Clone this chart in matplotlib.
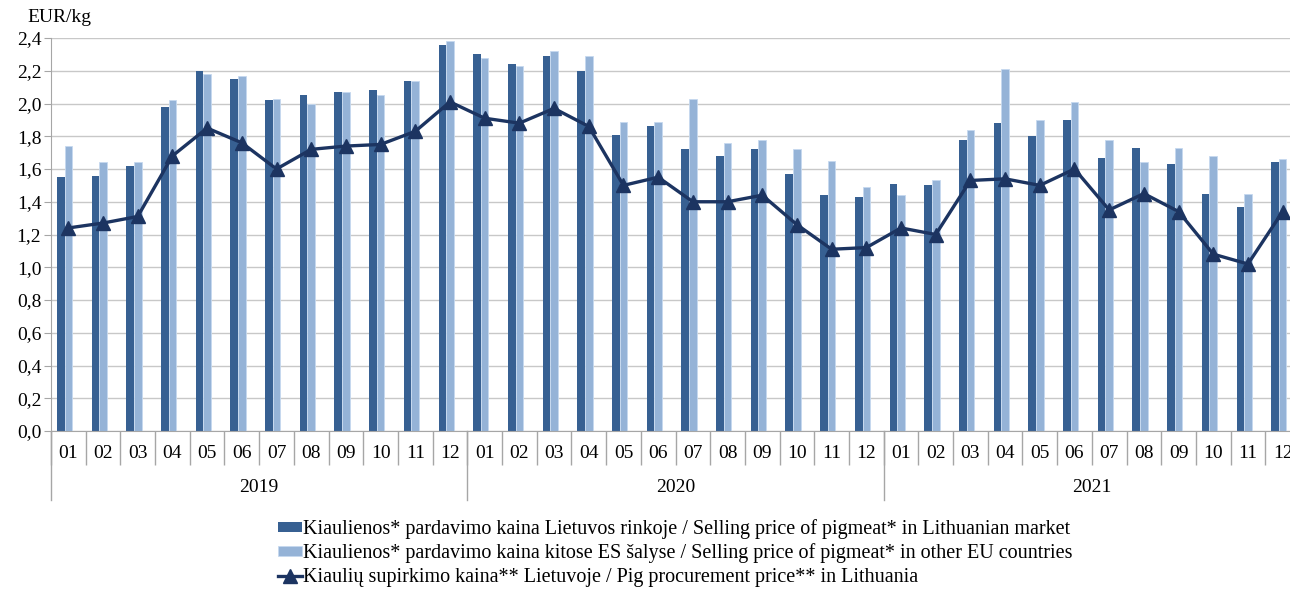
import matplotlib.pyplot as plt
import matplotlib.ticker as mtick
import numpy as np

# data (EUR/kg)
years = ["2019", "2020", "2021"]
months = ["01", "02", "03", "04", "05", "06", "07", "08", "09", "10", "11", "12"]

lt_market = [1.55, 1.56, 1.62, 1.98, 2.20, 2.15, 2.02, 2.05, 2.07, 2.08, 2.14, 2.36,
             2.30, 2.24, 2.29, 2.20, 1.81, 1.86, 1.72, 1.68, 1.72, 1.57, 1.44, 1.43,
             1.51, 1.50, 1.78, 1.88, 1.80, 1.90, 1.67, 1.73, 1.63, 1.45, 1.37, 1.64]
eu_other = [1.74, 1.64, 1.64, 2.02, 2.18, 2.17, 2.03, 2.00, 2.07, 2.05, 2.14, 2.38,
            2.28, 2.23, 2.32, 2.29, 1.89, 1.89, 2.03, 1.76, 1.78, 1.72, 1.65, 1.49,
            1.44, 1.53, 1.84, 2.21, 1.90, 2.01, 1.78, 1.64, 1.73, 1.68, 1.45, 1.66]
procurement = [1.24, 1.27, 1.31, 1.68, 1.85, 1.76, 1.60, 1.72, 1.74, 1.75, 1.83, 2.01,
               1.91, 1.88, 1.97, 1.86, 1.50, 1.55, 1.40, 1.40, 1.44, 1.26, 1.11, 1.12,
               1.24, 1.20, 1.53, 1.54, 1.50, 1.60, 1.35, 1.45, 1.34, 1.08, 1.02, 1.34]

labels = [
    "Kiaulienos* pardavimo kaina Lietuvos rinkoje / Selling price of pigmeat* in Lithuanian market",
    "Kiaulienos* pardavimo kaina kitose ES šalyse / Selling price of pigmeat* in other EU countries",
    "Kiaulių supirkimo kaina** Lietuvoje / Pig procurement price** in Lithuania",
]

DARK = "#376092"
LIGHT = "#95b3d7"
NAVY = "#1c3461"
GRID = "#c8c8c8"
AXIS = "#a6a6a6"

plt.rcParams["font.family"] = ["Liberation Serif", "DejaVu Serif"]

W, H = 1290, 592
fig = plt.figure(figsize=(W / 100, H / 100), dpi=100)
# plot area runs a little past the right edge, as in the reference
ax = fig.add_axes([51 / W, 1 - 431 / H, 1249 / W, 393 / H])

x = np.arange(len(lt_market))
bw = 0.22
# light bar sits on the category centre, dark bar just left of it
b1 = ax.bar(x - 1.5 * bw, lt_market, width=bw, color=DARK, align="edge", zorder=2)
b2 = ax.bar(x - 0.5 * bw, eu_other, width=bw, color=LIGHT, edgecolor="#c6d9ef",
            linewidth=0.6, align="edge", zorder=2)
l1, = ax.plot(x, procurement, color=NAVY, linewidth=2.4, marker="^", markersize=10,
              zorder=3)

ax.set_ylim(0, 2.4)
ax.set_yticks(np.arange(0, 2.41, 0.2))
ax.yaxis.set_major_formatter(mtick.FuncFormatter(lambda v, p: f"{v:.1f}".replace(".", ",")))
ax.grid(True, axis="y", color=GRID, linewidth=1.0, zorder=0)
ax.set_axisbelow(True)
ax.set_xlim(-0.5, len(x) - 0.5)

for s in ["top", "right"]:
    ax.spines[s].set_visible(False)
ax.spines["left"].set_color(AXIS)
ax.spines["bottom"].set_color(AXIS)
ax.tick_params(axis="y", length=5, color=AXIS, labelsize=14, pad=2)

# month separators as long outward ticks
ax.set_xticks(np.arange(-0.5, len(x), 1.0))
ax.set_xticklabels([])
ax.tick_params(axis="x", length=24.5, color=AXIS, width=1.0, direction="out")

tr = ax.get_xaxis_transform()
for i in range(len(x)):
    ax.text(i, -0.056, months[i % 12], transform=tr, ha="center", va="center",
            fontsize=14)
for k, yr in enumerate(years):
    left = k * 12 - 0.5
    ax.plot([left, left], [0, -0.176], transform=tr, color=AXIS, linewidth=1.0,
            clip_on=False)
    ax.text(k * 12 + 5.5, -0.145, yr, transform=tr, ha="center", va="center",
            fontsize=14)

fig.text(27 / W, 1 - 18 / H, "EUR/kg", ha="left", va="center", fontsize=14)

# legend kept fully inside the figure
fig.legend([b1, b2, l1], labels, loc="upper left", bbox_to_anchor=(278 / W, 1 - 519 / H),
           frameon=False, fontsize=14.5, handlelength=1.2, handleheight=0.4,
           handletextpad=0.05, labelspacing=0.22, borderpad=0, borderaxespad=0)

fig.savefig("out.png", dpi=100)
